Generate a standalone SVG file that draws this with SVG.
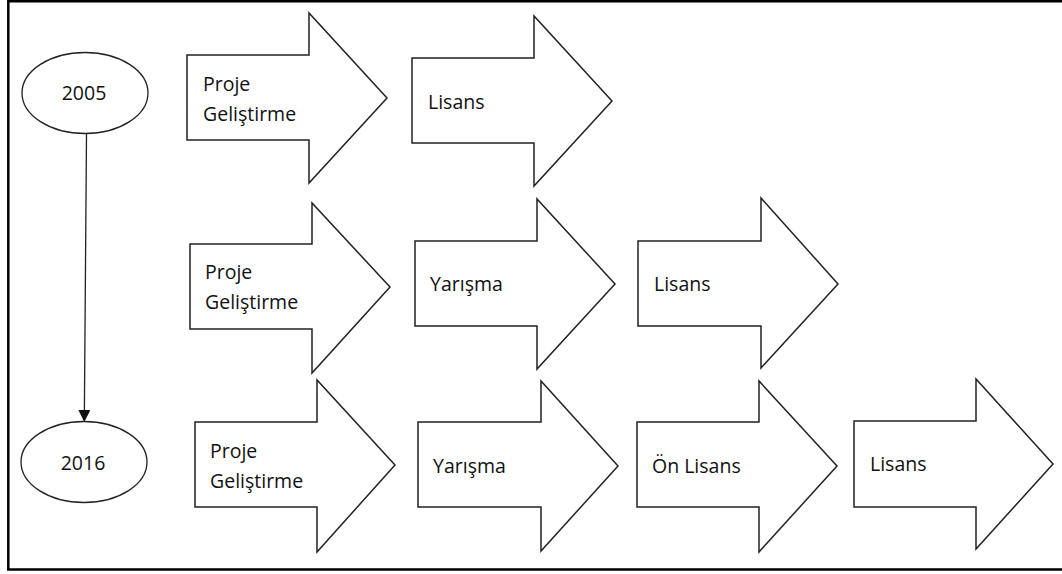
<svg xmlns="http://www.w3.org/2000/svg" width="1062" height="574" viewBox="0 0 1062 574">
<style>
.frame{fill:none;stroke:#000;stroke-width:2.5}
.arr{fill:#fff;stroke:#222;stroke-width:1.5;stroke-linejoin:miter}
.ell{fill:#fff;stroke:#222;stroke-width:1.3}
.t{font-family:"Open Sans","Noto Sans",sans-serif;font-size:19.5px;fill:#111}
.c{text-anchor:middle}
.conn{stroke:#222;stroke-width:1.3;fill:none}
</style>
<defs>
<marker id="ah" markerUnits="userSpaceOnUse" markerWidth="12" markerHeight="13" refX="12" refY="6" orient="auto">
<path d="M0,0 L12,6 L0,12 Z" fill="#111"/>
</marker>
</defs>
<rect width="1062" height="574" fill="#fff"/>
<path class="frame" d="M1070,1.2 H8.3 V569.5 H1070"/>
<g id="connectors">
<path class="conn" d="M86.5,134 L84.3,422" marker-end="url(#ah)"/>
</g>
<g id="y2005">
<ellipse class="ell" cx="85" cy="93" rx="63" ry="40.5"/>
<text class="t c" x="84" y="100">2005</text>
</g>
<g id="y2016">
<ellipse class="ell" cx="84" cy="462" rx="63" ry="40.5"/>
<text class="t c" x="83" y="470">2016</text>
</g>
<g id="r1a1">
<path class="arr" d="M187,55 H309 V13 L387,98 L309,183 V140 H187 Z"/>
<text class="t" x="203" y="91">Proje</text>
<text class="t" x="203" y="121">Geliştirme</text>
</g>
<g id="r1a2">
<path class="arr" d="M412,58 H534 V16 L612,101 L534,186 V143 H412 Z"/>
<text class="t" x="428" y="109">Lisans</text>
</g>
<g id="r2a1">
<path class="arr" d="M190,244 H312 V203 L390,287 L312,373 V329 H190 Z"/>
<text class="t" x="205" y="279">Proje</text>
<text class="t" x="205" y="309">Geliştirme</text>
</g>
<g id="r2a2">
<path class="arr" d="M415,241 H537 V199 L615,284 L537,369 V326 H415 Z"/>
<text class="t" x="430" y="291">Yarışma</text>
</g>
<g id="r2a3">
<path class="arr" d="M638,241 H761 V198 L838,284 L761,368 V326 H638 Z"/>
<text class="t" x="654" y="291">Lisans</text>
</g>
<g id="r3a1">
<path class="arr" d="M195,422 H317 V380 L395,465 L317,552 V507 H195 Z"/>
<text class="t" x="210" y="458">Proje</text>
<text class="t" x="210" y="488">Geliştirme</text>
</g>
<g id="r3a2">
<path class="arr" d="M418,422 H541 V381 L618,466 L541,551 V507 H418 Z"/>
<text class="t" x="433" y="473">Yarışma</text>
</g>
<g id="r3a3">
<path class="arr" d="M637,422 H759 V381 L837,466 L759,552 V507 H637 Z"/>
<text class="t" x="652" y="473">Ön Lisans</text>
</g>
<g id="r3a4">
<path class="arr" d="M854,421 H976 V379 L1053,464 L976,549 V507 H854 Z"/>
<text class="t" x="870" y="471">Lisans</text>
</g>
</svg>
